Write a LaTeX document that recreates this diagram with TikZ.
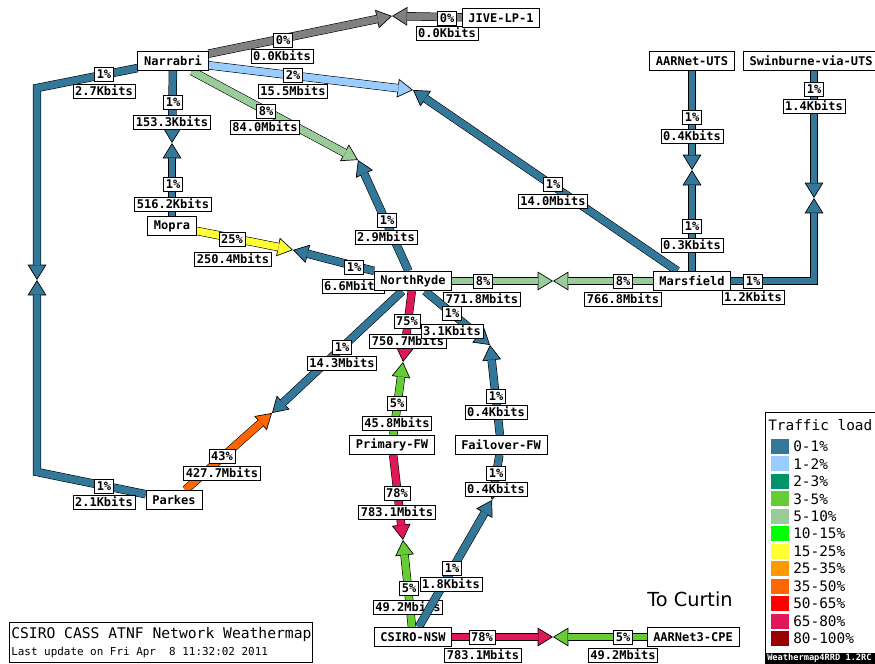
\documentclass[tikz,border=0pt]{standalone}
\usepackage{fontspec}
\setmonofont{DejaVu Sans Mono}
\newfontfamily\sansdv{DejaVu Sans}
\usetikzlibrary{arrows.meta}
\pgfdeclarelayer{links}
\pgfsetlayers{links,main}
\definecolor{load00}{HTML}{808080}
\definecolor{load01}{HTML}{337799}
\definecolor{load02}{HTML}{99CCFF}
\definecolor{load03}{HTML}{00936A}
\definecolor{load05}{HTML}{66CC33}
\definecolor{load10}{HTML}{99CC99}
\definecolor{load15}{HTML}{00FF00}
\definecolor{load25}{HTML}{FFFF33}
\definecolor{load35}{HTML}{FF9900}
\definecolor{load50}{HTML}{FF6600}
\definecolor{load65}{HTML}{FF0000}
\definecolor{load80}{HTML}{E01858}
\definecolor{load100}{HTML}{990000}

\begin{document}
\begin{tikzpicture}[x=0.75pt,y=-0.75pt,
      site/.style={draw,fill=white,line width=0.6pt,font=\ttfamily\bfseries\fontsize{9pt}{9pt}\selectfont,inner xsep=4.7pt,inner ysep=0pt,minimum height=14.5pt},
      tag/.style={draw,fill=white,line width=0.5pt,font=\ttfamily\bfseries\fontsize{9pt}{9pt}\selectfont,inner xsep=1.6pt,inner ysep=0pt,minimum height=10.5pt},
      wlink/.style={draw=#1,line width=5.2pt,-{Triangle[length=11.5pt,width=14pt,fill=#1,color=black,line width=0.5pt]},preaction={draw=black,line width=6.3pt,-,shorten >=10.5pt},postaction={draw=#1,line width=5.2pt,-,shorten >=11pt}},
      swatch/.style={fill=#1,minimum width=13.5pt,minimum height=11.25pt,inner sep=0pt},
      keytext/.style={font=\ttfamily\fontsize{10.8pt}{10.8pt}\selectfont,anchor=west,inner sep=0pt}
    ]
    \useasboundingbox (0,0) rectangle (875,664);

    \node[site] (narrabri) at (173,61) {Narrabri};
    \node[site] (jive) at (501,18) {JIVE-LP-1};
    \node[site] (aarnetuts) at (692,61) {AARNet-UTS};
    \node[site,anchor=west] (swinburne) at (743,61) {Swinburne-via-UTS};
    \node[site] (mopra) at (172,226) {Mopra};
    \node[site] (northryde) at (413,281) {NorthRyde};
    \node[site] (marsfield) at (692,281) {Marsfield};
    \node[site] (primary) at (392,445) {Primary-FW};
    \node[site] (failover) at (501,445) {Failover-FW};
    \node[site] (parkes) at (174,500) {Parkes};
    \node[site] (csironsw) at (413,637) {CSIRO-NSW};
    \node[site] (aarnet3) at (693,637) {AARNet3-CPE};

    \coordinate (nj) at (392,16);
    \coordinate (nm) at (413,90);
    \coordinate (nn) at (358,160);
    \coordinate (no) at (172,143);
    \coordinate (np) at (37,280);
    \coordinate (np1) at (37,88);
    \coordinate (np2) at (37,472);
    \coordinate (mn) at (293,250);
    \coordinate (nrm) at (553,281);
    \coordinate (am) at (692,170);
    \coordinate (sm) at (814,198);
    \coordinate (sm1) at (814,281);
    \coordinate (nrp) at (272,413);
    \coordinate (nrpf) at (403,362);
    \coordinate (nrff) at (490,345);
    \coordinate (pc) at (403,540);
    \coordinate (fc) at (492,500);
    \coordinate (ca) at (553,637);

    \begin{pgfonlayer}{links}
    \fill[white] (0,0) rectangle (875,664);

    \draw[wlink=load00] (narrabri) -- (nj);
    \draw[wlink=load00] (jive) -- (nj);
    \node[tag] (nj-p) at (283,40) {0\%};
    \node[tag] (nj-b) at (282,56) {0.0Kbits};
    \node[tag] (jn-p) at (447,18) {0\%};
    \node[tag] (jn-b) at (447,33) {0.0Kbits};

    \draw[wlink=load02] (narrabri) -- (nm);
    \draw[wlink=load01] (marsfield) -- (nm);
    \node[tag] (nm-p) at (293,75) {2\%};
    \node[tag] (nm-b) at (293,91) {15.5Mbits};
    \node[tag] (mn-p) at (553,184) {1\%};
    \node[tag] (mn-b) at (553,201) {14.0Mbits};

    \draw[wlink=load10] (narrabri) -- (nn);
    \draw[wlink=load01] (northryde) -- (nn);
    \node[tag] (nn-p) at (266,111) {8\%};
    \node[tag] (nn-b) at (265,127) {84.0Mbits};
    \node[tag] (rn-p) at (387,220) {1\%};
    \node[tag] (rn-b) at (386,237) {2.9Mbits};

    \draw[wlink=load01] (narrabri) -- (no);
    \draw[wlink=load01] (mopra) -- (no);
    \node[tag] (no-p) at (173,102) {1\%};
    \node[tag] (no-b) at (172,122) {153.3Kbits};
    \node[tag] (on-p) at (173,184) {1\%};
    \node[tag] (on-b) at (173,204) {516.2Kbits};

    \draw[wlink=load01] (narrabri) -- (np1) -- (np);
    \draw[wlink=load01] (parkes) -- (np2) -- (np);
    \node[tag] (np-p) at (104,74) {1\%};
    \node[tag] (np-b) at (104,91) {2.7Kbits};
    \node[tag] (pn-p) at (104,486) {1\%};
    \node[tag] (pn-b) at (104,502) {2.1Kbits};

    \draw[wlink=load25] (mopra) -- (mn);
    \draw[wlink=load01] (northryde) -- (mn);
    \node[tag] (mr-p) at (232,239) {25\%};
    \node[tag] (mr-b) at (233,259) {250.4Mbits};
    \node[tag] (rm-p) at (354,267) {1\%};
    \node[tag] (rm-b) at (353,286) {6.6Mbits};

    \draw[wlink=load10] (northryde) -- (nrm);
    \draw[wlink=load10] (marsfield) -- (nrm);
    \node[tag] (rs-p) at (483,281) {8\%};
    \node[tag] (rs-b) at (482,299) {771.8Mbits};
    \node[tag] (sr-p) at (623,281) {8\%};
    \node[tag] (sr-b) at (623,299) {766.8Mbits};

    \draw[wlink=load01] (aarnetuts) -- (am);
    \draw[wlink=load01] (marsfield) -- (am);
    \node[tag] (am-p) at (692,117) {1\%};
    \node[tag] (am-b) at (692,136) {0.4Kbits};
    \node[tag] (ma-p) at (692,226) {1\%};
    \node[tag] (ma-b) at (692,245) {0.3Kbits};

    \draw[wlink=load01] (swinburne.south -| sm) -- (sm);
    \draw[wlink=load01] (marsfield) -- (sm1) -- (sm);
    \node[tag] (sm-p) at (814,89) {1\%};
    \node[tag] (sm-b) at (814,106) {1.4Kbits};
    \node[tag] (ms-p) at (753,281) {1\%};
    \node[tag] (ms-b) at (753,297) {1.2Kbits};

    \draw[wlink=load01] (northryde) -- (nrp);
    \draw[wlink=load50] (parkes) -- (nrp);
    \node[tag] (rp-p) at (342,347) {1\%};
    \node[tag] (rp-b) at (342,363) {14.3Mbits};
    \node[tag] (pr-p) at (222,456) {43\%};
    \node[tag] (pr-b) at (222,473) {427.7Mbits};

    \draw[wlink=load80] (northryde) -- (nrpf);
    \draw[wlink=load05] (primary) -- (nrpf);
    \node[tag] (rf-p) at (407,321) {75\%};
    \node[tag] (rf-b) at (408,341) {750.7Mbits};
    \node[tag] (fr-p) at (397,403) {5\%};
    \node[tag] (fr-b) at (397,423) {45.8Mbits};

    \draw[wlink=load01] (northryde) -- (nrff);
    \draw[wlink=load01] (failover) -- (nrff);
    \node[tag] (ro-p) at (452,313) {1\%};
    \node[tag] (ro-b) at (452,331) {3.1Kbits};
    \node[tag] (or-p) at (496,396) {1\%};
    \node[tag] (or-b) at (496,412) {0.4Kbits};

    \draw[wlink=load80] (primary) -- (pc);
    \draw[wlink=load05] (csironsw) -- (pc);
    \node[tag] (pc-p) at (397,493) {78\%};
    \node[tag] (pc-b) at (397,512) {783.1Mbits};
    \node[tag] (cp-p) at (409,588) {5\%};
    \node[tag] (cp-b) at (408,607) {49.2Mbits};

    \draw[wlink=load01] (failover) -- (fc);
    \draw[wlink=load01] (csironsw) -- (fc);
    \node[tag] (fc-p) at (496,473) {1\%};
    \node[tag] (fc-b) at (496,489) {0.4Kbits};
    \node[tag] (cf-p) at (452,568) {1\%};
    \node[tag] (cf-b) at (451,584) {1.8Kbits};

    \draw[wlink=load80] (csironsw) -- (ca);
    \draw[wlink=load05] (aarnet3) -- (ca);
    \node[tag] (ca-p) at (482,637) {78\%};
    \node[tag] (ca-b) at (483,655) {783.1Mbits};
    \node[tag] (ac-p) at (623,637) {5\%};
    \node[tag] (ac-b) at (623,655) {49.2Mbits};
    \end{pgfonlayer}

    \node[font=\sansdv\fontsize{14.5pt}{14.5pt}\selectfont,inner sep=0pt] (curtin) at (690,599) {To Curtin};

    \draw[line width=0.6pt] (9,622) rectangle (312,662);
    \node[anchor=west,inner sep=0pt,font=\ttfamily\fontsize{11pt}{11pt}\selectfont] (title) at (11,634) {CSIRO CASS ATNF Network Weathermap};
    \node[anchor=west,inner sep=0pt,font=\ttfamily\fontsize{8.2pt}{8.2pt}\selectfont] (stamp) at (11,652) {Last update on Fri Apr\ \ 8 11:32:02 2011};

    \draw[fill=white,line width=0.6pt] (765,412) rectangle (880,670);
    \node[keytext] (keytitle) at (768,425) {Traffic load};
    \foreach \c/\t [count=\i from 0] in {load01/0-1\%,load02/1-2\%,load03/2-3\%,load05/3-5\%,load10/5-10\%,load15/10-15\%,load25/15-25\%,load35/25-35\%,load50/35-50\%,load65/50-65\%,load80/65-80\%,load100/80-100\%}{
      \node[swatch=\c] (sw\i) at (780,{446.5+17.45*\i}) {};
      \node[keytext] (kt\i) at (793,{446.5+17.45*\i}) {\t};
    }
    \fill[black] (765,653) rectangle (880,664);
    \node[anchor=west,inner sep=0pt,text=white,font=\ttfamily\bfseries\fontsize{6.5pt}{6.5pt}\selectfont] (credit) at (767,658.5) {Weathermap4RRD 1.2RC};
  \end{tikzpicture}
\end{document}
